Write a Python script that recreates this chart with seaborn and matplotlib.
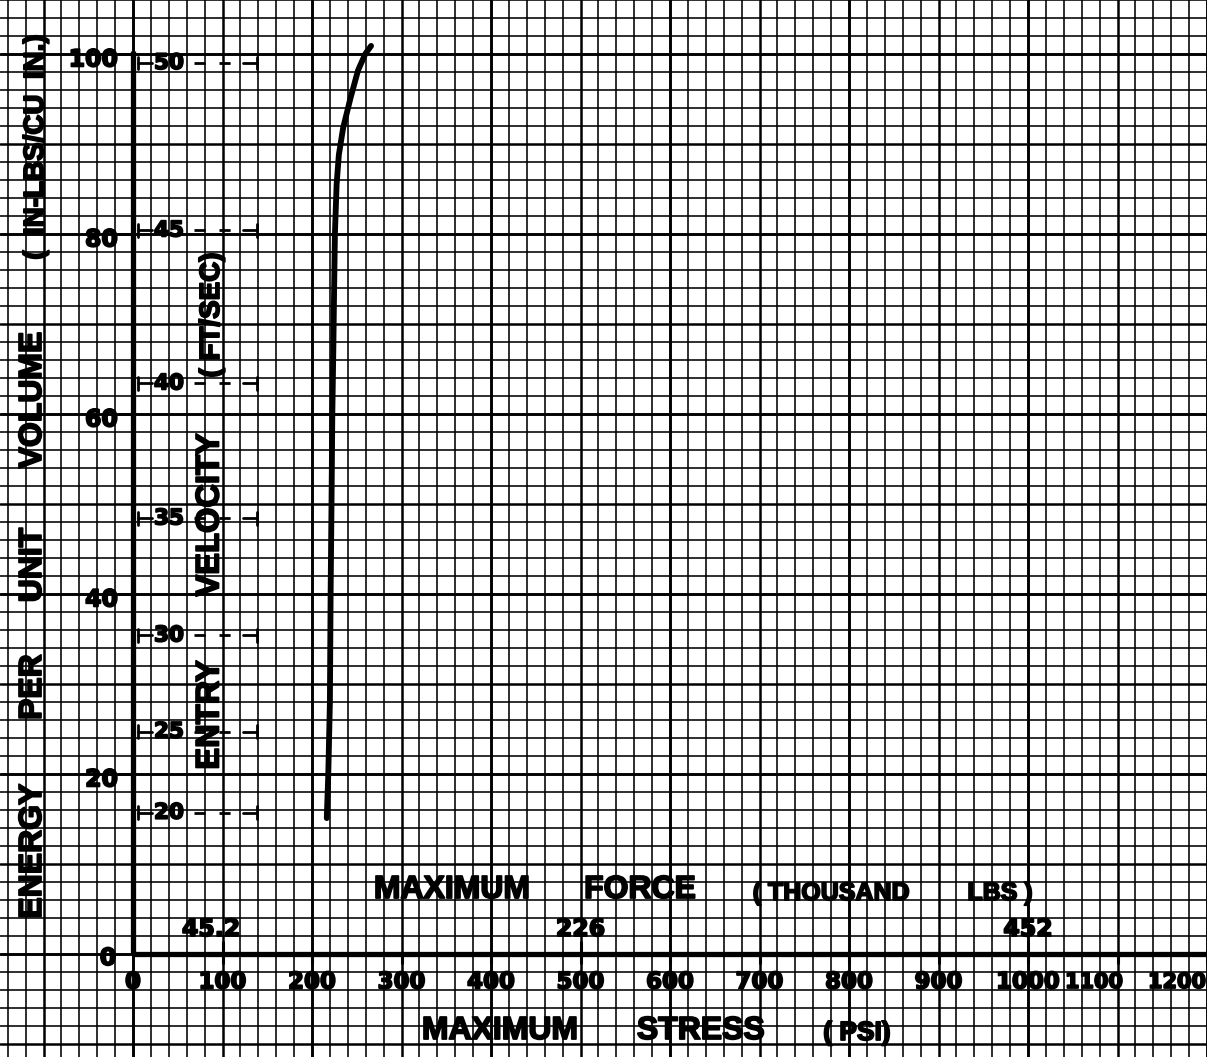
import numpy as np
import pandas as pd
import matplotlib
matplotlib.use("Agg")
import matplotlib.pyplot as plt
import matplotlib.patheffects as pe
import seaborn as sns

# ---------------- data ----------------
stress_psi = [216.5, 218.2, 220.0, 220.8, 221.8, 222.7, 223.8, 224.6, 225.6,
              227.5, 230.0, 234.8, 243.0, 251.5, 259.5, 266.0]
energy = [15.1, 20.0, 28.0, 40.0, 50.0, 60.0, 67.0, 73.0, 80.0,
          85.5, 88.8, 91.8, 95.1, 98.2, 100.0, 100.9]

energy_ticks = [0, 20, 40, 60, 80, 100]
stress_ticks = [0, 100, 200, 300, 400, 500, 600, 700, 800, 900, 1000, 1100, 1200]
velocity_ticks = [50, 45, 40, 35, 30, 25, 20]
velocity_energy_pos = [99.0, 80.4, 63.4, 48.4, 35.4, 24.7, 15.7]
force_labels = ["45.2", "226", "452"]
force_stress_pos = [100, 500, 1000]

# ---------------- layout ----------------
W, H = 1207, 1057
X0_PX, Y0_PX = 133.0, 954.0
PX_PER_PSI = 0.895
PX_PER_E = 9.0
xmin = -X0_PX / PX_PER_PSI
xmax = (W - X0_PX) / PX_PER_PSI
ymin = -(H - Y0_PX) / PX_PER_E
ymax = Y0_PX / PX_PER_E


def px2x(px):
    return (px - X0_PX) / PX_PER_PSI


def py2y(py):
    return (Y0_PX - py) / PX_PER_E


sns.set_style("white")
WORD = ['Liberation Sans', 'DejaVu Sans']
DIGIT = ['DejaVu Sans']
plt.rcParams['font.family'] = WORD
plt.rcParams['text.color'] = 'black'

BOLD = [pe.withStroke(linewidth=1.3, foreground="black")]

fig = plt.figure(figsize=(W / 100, H / 100), dpi=100)
fig.patch.set_facecolor("white")
ax = fig.add_axes([0, 0, 1, 1])
ax.set_xlim(xmin, xmax)
ax.set_ylim(ymin, ymax)
ax.set_axis_off()

# graph-paper grid
for gx in np.arange(-140, 1201, 20):
    if gx % 200 == 0:
        lw = 2.1
    elif gx % 100 == 0:
        lw = 1.8
    else:
        lw = 1.15
    ax.axvline(gx, color="black", lw=lw, zorder=1)
for gy in np.arange(-10, 107, 2):
    if gy % 20 == 0:
        lw = 2.1
    elif gy % 10 == 0:
        lw = 1.8
    else:
        lw = 1.15
    ax.axhline(gy, color="black", lw=lw, zorder=1)

# main axes lines
ax.plot([0, 0], [0, 100.3], color="black", lw=3.8, solid_capstyle="butt", zorder=3)
ax.plot([0, xmax], [0, 0], color="black", lw=3.8, solid_capstyle="butt", zorder=3)

# x ticks below axis & force ticks above
for t in stress_ticks[1:]:
    ax.plot([t, t], [0, -1.0], color="black", lw=2.2, zorder=3)
for t in force_stress_pos:
    ax.plot([t, t], [0, 1.3], color="black", lw=2.2, zorder=3)

# energy ticks
for e in energy_ticks[1:]:
    ax.plot([px2x(119), 0], [e, e], color="black", lw=2.0, zorder=3)

# curve
df = pd.DataFrame({"stress": stress_psi, "energy": energy})
sns.lineplot(data=df, x="stress", y="energy", sort=False, color="black",
             lw=4.2, ax=ax, zorder=5, solid_capstyle="round")
ax.set_xlim(xmin, xmax)
ax.set_ylim(ymin, ymax)
ax.set_axis_off()


def txt(x, y, s, size, fam, ha="center", va="center", rot=0):
    ax.text(x, y, s, ha=ha, va=va, rotation=rot, family=fam, fontweight="bold",
            fontsize=size, color="black", zorder=6, path_effects=BOLD)


# velocity ticks (secondary scale)
for v, e in zip(velocity_ticks, velocity_energy_pos):
    ax.plot([px2x(138), px2x(152)], [e, e], color="black", lw=2.0, zorder=4)
    ax.plot([px2x(138), px2x(138)], [e - 0.7, e + 0.7], color="black", lw=2.0, zorder=4)
    txt(px2x(154), e, str(v), 15.5, DIGIT, ha="left")
    ax.plot([px2x(194), px2x(243)], [e, e], color="black", lw=2.0,
            dashes=(4, 5), zorder=4)
    ax.plot([px2x(243), px2x(257)], [e, e], color="black", lw=2.0, zorder=4)
    ax.plot([px2x(257), px2x(257)], [e - 0.7, e + 0.7], color="black", lw=2.0, zorder=4)

# energy tick labels
for e in energy_ticks:
    if e == 0:
        txt(px2x(108), py2y(958), "0", 17, DIGIT)
    else:
        txt(px2x(118), e - 0.6, str(e), 17, DIGIT, ha="right")

# stress tick labels
for t in stress_ticks:
    if t == 1100:
        txt(px2x(1123), py2y(982), str(t), 15, DIGIT, ha="right")
    elif t == 1200:
        txt(px2x(1206), py2y(982), str(t), 15, DIGIT, ha="right")
    else:
        txt(t, py2y(982), str(t), 16.5, DIGIT)

# force labels
for lab, pos in zip(force_labels, force_stress_pos):
    xx = px2x(211) if lab == "45.2" else pos
    txt(xx, py2y(929), lab, 17, DIGIT)


def word(xp, yp, s, size, rot=0):
    txt(px2x(xp), py2y(yp), s, size, WORD, rot=rot)


# axis titles (bottom)
word(452, 890, "MAXIMUM", 23)
word(640, 890, "FORCE", 23)
word(831, 893, "( THOUSAND", 18)
word(1000, 893, "LBS )", 18)

word(500, 1031, "MAXIMUM", 23)
word(701, 1031, "STRESS", 23)
word(857, 1033, "( PSI)", 19)

# rotated titles (left)
word(33, 851, "ENERGY", 23, 90)
word(33, 687, "PER", 23, 90)
word(33, 565, "UNIT", 23, 90)
word(33, 400, "VOLUME", 23, 90)
word(36, 147, "(  IN-LBS/CU  IN.)", 20, 90)

word(210, 715, "ENTRY", 23.5, 90)
word(210, 515, "VELOCITY", 23.5, 90)
word(212, 315, "( FT/SEC)", 20, 90)

fig.savefig("out.png", dpi=100, facecolor="white")
